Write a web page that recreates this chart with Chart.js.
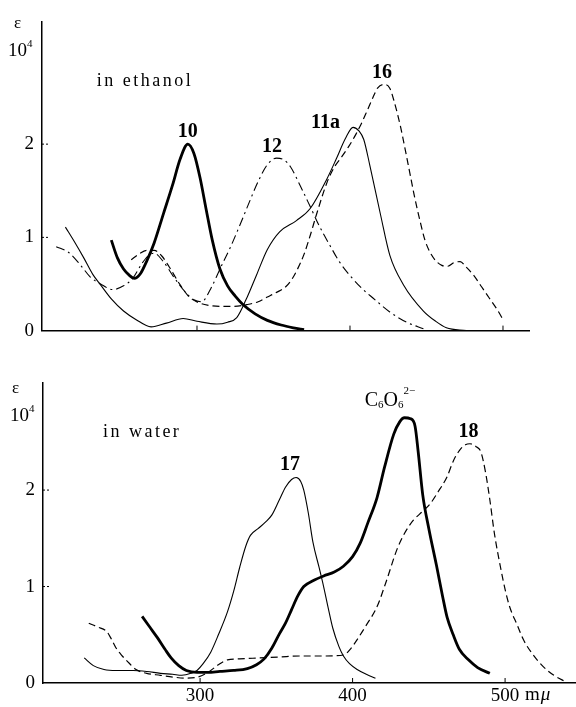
<!DOCTYPE html>
<html>
<head>
<meta charset="utf-8">
<script src="https://cdn.jsdelivr.net/npm/chart.js@4.4.0/dist/chart.umd.min.js"></script>
<style>
    body { margin: 0; background: #fff; }
    canvas { position: absolute; left: 0; }
</style>
</head>
<body>
<canvas id="ethanolChart" width="576" height="350" style="top:0"></canvas>
<canvas id="waterChart" width="576" height="350" style="top:357px"></canvas>
<script>
// wavelength (mμ), ε / 10^4
const curve10 = [[244,0.97],[248,0.78],[252,0.66],[256,0.59],[259,0.56],[263,0.61],[267,0.74],[272,0.94],[278,1.25],[284,1.56],[289,1.84],[294,2.0],[298,1.9],[302,1.64],[306,1.3],[310,0.97],[315,0.66],[320,0.48],[325,0.37],[330,0.28],[338,0.18],[346,0.11],[355,0.06],[363,0.03],[370,0.01]];
const curve11a = [[214,1.11],[220,0.95],[226,0.78],[232,0.6],[237,0.49],[244,0.34],[252,0.21],[260,0.12],[270,0.04],[280,0.08],[291,0.13],[300,0.1],[313,0.07],[320,0.09],[326,0.14],[332,0.33],[339,0.6],[346,0.87],[354,1.06],[365,1.18],[374,1.31],[385,1.63],[391,1.84],[397,2.06],[402,2.18],[406,2.14],[409,2.05],[413,1.77],[420,1.24],[426,0.81],[435,0.49],[448,0.21],[456,0.1],[463,0.03],[476,0]];
const curve12 = [[208,0.9],[216,0.84],[224,0.7],[230,0.58],[237,0.5],[245,0.44],[252,0.48],[258,0.56],[264,0.72],[268,0.8],[272,0.83],[278,0.74],[285,0.57],[292,0.42],[298,0.33],[303,0.31],[309,0.45],[315,0.66],[322,0.9],[328,1.13],[334,1.37],[340,1.6],[346,1.78],[352,1.85],[357,1.83],[361,1.76],[367,1.57],[374,1.33],[380,1.12],[387,0.91],[393,0.74],[400,0.59],[408,0.45],[415,0.35],[426,0.2],[437,0.09],[448,0.02]];
const curve16 = [[257,0.76],[262,0.82],[267,0.86],[272,0.86],[277,0.8],[282,0.68],[289,0.49],[295,0.36],[301,0.3],[308,0.27],[315,0.26],[324,0.26],[333,0.28],[340,0.31],[346,0.36],[352,0.41],[358,0.47],[362,0.55],[366,0.67],[370,0.82],[374,1.02],[378,1.24],[385,1.59],[390,1.76],[394,1.85],[399,1.97],[404,2.11],[408,2.24],[411,2.35],[415,2.5],[418,2.6],[422,2.64],[426,2.6],[429,2.45],[433,2.19],[436,1.95],[439,1.7],[442,1.45],[446,1.16],[449,0.97],[452,0.85],[456,0.75],[460,0.7],[464,0.69],[468,0.73],[472,0.74],[476,0.68],[481,0.59],[486,0.47],[491,0.35],[496,0.23],[500,0.12]];

const curve17 = [[224,0.26],[230,0.18],[237,0.14],[245,0.13],[256,0.13],[265,0.12],[274,0.1],[282,0.09],[288,0.08],[294,0.1],[298,0.13],[302,0.2],[307,0.32],[312,0.5],[318,0.74],[322,0.95],[326,1.2],[330,1.42],[333,1.53],[338,1.6],[343,1.67],[347,1.74],[352,1.9],[356,2.03],[360,2.11],[363,2.13],[366,2.09],[368,2.0],[371,1.76],[374,1.46],[378,1.2],[381,1.0],[384,0.78],[387,0.57],[391,0.38],[394,0.28],[398,0.2],[403,0.14],[409,0.09],[415,0.05]];
const curveC6O6 = [[262,0.69],[267,0.58],[272,0.47],[277,0.35],[281,0.26],[286,0.18],[291,0.13],[298,0.11],[305,0.11],[313,0.12],[322,0.13],[331,0.15],[337,0.19],[342,0.25],[347,0.36],[352,0.51],[356,0.62],[360,0.76],[364,0.9],[368,1.0],[374,1.06],[381,1.11],[388,1.15],[394,1.21],[400,1.31],[405,1.45],[410,1.66],[416,1.92],[421,2.24],[427,2.58],[431,2.71],[434,2.75],[438,2.74],[441,2.66],[443,2.4],[446,1.95],[450,1.6],[455,1.22],[459,0.9],[462,0.68],[466,0.5],[470,0.35],[476,0.24],[482,0.16],[490,0.1]];
const curve18 = [[227,0.62],[233,0.58],[239,0.53],[242,0.45],[245,0.36],[249,0.28],[252,0.23],[258,0.14],[265,0.1],[274,0.08],[283,0.06],[291,0.05],[298,0.06],[303,0.09],[307,0.13],[312,0.19],[318,0.24],[326,0.25],[339,0.26],[352,0.27],[366,0.28],[380,0.28],[394,0.29],[399,0.36],[403,0.45],[409,0.6],[416,0.79],[422,1.05],[429,1.38],[434,1.55],[440,1.69],[446,1.78],[451,1.86],[456,1.98],[462,2.14],[466,2.3],[470,2.41],[474,2.47],[477,2.48],[481,2.45],[484,2.4],[487,2.2],[490,1.9],[493,1.55],[497,1.2],[500,0.97],[503,0.79],[508,0.6],[512,0.45],[518,0.3],[525,0.17],[532,0.08],[540,0.01]];

const xTicks = [300, 400, 500];
const yTicks = [0, 1, 2];

const SERIF = '"Liberation Serif", "DejaVu Serif", serif';

function series(points, width, dash) {
    return {
        data: points.map(p => ({x: p[0], y: p[1]})),
        borderColor: '#000',
        borderWidth: width,
        borderDash: dash || [],
        pointRadius: 0,
        fill: false,
        cubicInterpolationMode: 'monotone',
    };
}

// draws runs of text, each with its own size and baseline shift
function drawRuns(ctx, runs, x, y) {
    runs.forEach(r => {
        ctx.font = (r.style || '') + ' ' + r.size + 'px ' + SERIF;
        ctx.fillText(r.t, x, y + (r.dy || 0));
        x += ctx.measureText(r.t).width + (r.gap || 0);
    });
}

const panelText = {
    id: 'panelText',
    afterDraw(chart, args, opts) {
        const ctx = chart.ctx;
        const xs = chart.scales.x, ys = chart.scales.y;
        ctx.save();
        ctx.fillStyle = '#000';
        ctx.strokeStyle = '#000';
        ctx.lineWidth = 1;

        // small inward tick marks
        xTicks.forEach(v => {
            const px = xs.getPixelForValue(v);
            ctx.beginPath();
            ctx.moveTo(px, ys.bottom);
            ctx.lineTo(px, ys.bottom - 5);
            ctx.stroke();
        });
        ctx.setLineDash([2, 2]);
        [1, 2].forEach(v => {
            const py = ys.getPixelForValue(v);
            ctx.beginPath();
            ctx.moveTo(xs.left, py);
            ctx.lineTo(xs.left + 7, py);
            ctx.stroke();
        });
        ctx.setLineDash([]);

        // axis unit: ε and 10^4
        ctx.textAlign = 'left';
        ctx.textBaseline = 'alphabetic';
        drawRuns(ctx, [{t: 'ε', size: 17}], opts.epsX, opts.epsY);
        drawRuns(ctx, [{t: '10', size: 19}, {t: '4', size: 11, dy: -9}], opts.unitX, opts.unitY);

        // curve labels, placed in data coordinates
        opts.labels.forEach(l => {
            const px = xs.getPixelForValue(l.x);
            const py = ys.getPixelForValue(l.y);
            ctx.textBaseline = 'middle';
            if (l.runs) {
                drawRuns(ctx, l.runs, px, py);
            } else {
                ctx.textAlign = 'center';
                ctx.font = l.font;
                ctx.letterSpacing = l.spacing || '0px';
                ctx.fillText(l.text, px, py);
                ctx.letterSpacing = '0px';
                ctx.textAlign = 'left';
            }
        });

        if (opts.unitLabel) {
            const px = xs.getPixelForValue(500) + 20;
            const py = xs.top + 12;
            ctx.textBaseline = 'middle';
            drawRuns(ctx, [{t: 'm', size: 19, gap: 1}, {t: 'μ', size: 19, style: 'italic'}], px, py);
        }
        ctx.restore();
    }
};

function makeOptions(xMin, xMax, yMax, yWidth, xHeight, padding, showXLabels, text) {
    return {
        responsive: false,
        animation: false,
        layout: {padding: padding},
        plugins: {
            legend: {display: false},
            tooltip: {enabled: false},
            panelText: text,
        },
        scales: {
            x: {
                type: 'linear',
                min: xMin,
                max: xMax,
                afterBuildTicks: s => { s.ticks = xTicks.map(v => ({value: v})); },
                afterFit: s => { s.height = xHeight; },
                grid: {display: false, drawTicks: false},
                border: {display: true, color: '#000', width: 1.5},
                ticks: {
                    display: showXLabels,
                    color: '#000',
                    padding: 2,
                    maxRotation: 0,
                    font: {family: SERIF, size: 19},
                },
            },
            y: {
                min: 0,
                max: yMax,
                afterBuildTicks: s => { s.ticks = yTicks.map(v => ({value: v})); },
                afterFit: s => { s.width = yWidth; },
                grid: {display: false, drawTicks: false},
                border: {display: true, color: '#000', width: 1.5},
                ticks: {
                    color: '#000',
                    padding: 8,
                    font: {family: SERIF, size: 19},
                },
            },
        },
    };
}

new Chart(document.getElementById('ethanolChart'), {
    type: 'line',
    data: {
        datasets: [
            series(curve10, 2.8),
            series(curve11a, 1.1),
            series(curve12, 1.1, [9, 4, 2, 4]),
            series(curve16, 1.2, [7, 4]),
        ]
    },
    options: makeOptions(198.7, 517, 3.31, 42, 17, {top: 22, right: 47, left: 0, bottom: 0}, false, {
        epsX: 14, epsY: 28, unitX: 8, unitY: 56,
        labels: [
            {text: 'in ethanol', x: 266, y: 2.67, font: '18px ' + SERIF, spacing: '2.5px'},
            {text: '10', x: 294, y: 2.13, font: 'bold 20px ' + SERIF},
            {text: '12', x: 349, y: 1.97, font: 'bold 20px ' + SERIF},
            {text: '11a', x: 384, y: 2.23, font: 'bold 20px ' + SERIF},
            {text: '16', x: 421, y: 2.77, font: 'bold 20px ' + SERIF},
        ],
    }),
    plugins: [panelText],
});

new Chart(document.getElementById('waterChart'), {
    type: 'line',
    data: {
        datasets: [
            series(curve17, 1.1),
            series(curveC6O6, 2.8),
            series(curve18, 1.2, [7, 4]),
        ]
    },
    options: makeOptions(197, 546.5, 3.11, 43, 24, {top: 26, right: 0, left: 0, bottom: 0}, true, {
        epsX: 12, epsY: 36, unitX: 10, unitY: 64,
        unitLabel: true,
        labels: [
            {text: 'in water', x: 262, y: 2.6, font: '18px ' + SERIF, spacing: '2.5px'},
            {text: '17', x: 359, y: 2.26, font: 'bold 20px ' + SERIF},
            {text: '18', x: 476, y: 2.6, font: 'bold 20px ' + SERIF},
            {runs: [
                {t: 'C', size: 20},
                {t: '6', size: 11, dy: 5},
                {t: 'O', size: 20},
                {t: '6', size: 11, dy: 5},
                {t: '2−', size: 11, dy: -9},
            ], x: 408, y: 2.93},
        ],
    }),
    plugins: [panelText],
});
</script>
</body>
</html>
